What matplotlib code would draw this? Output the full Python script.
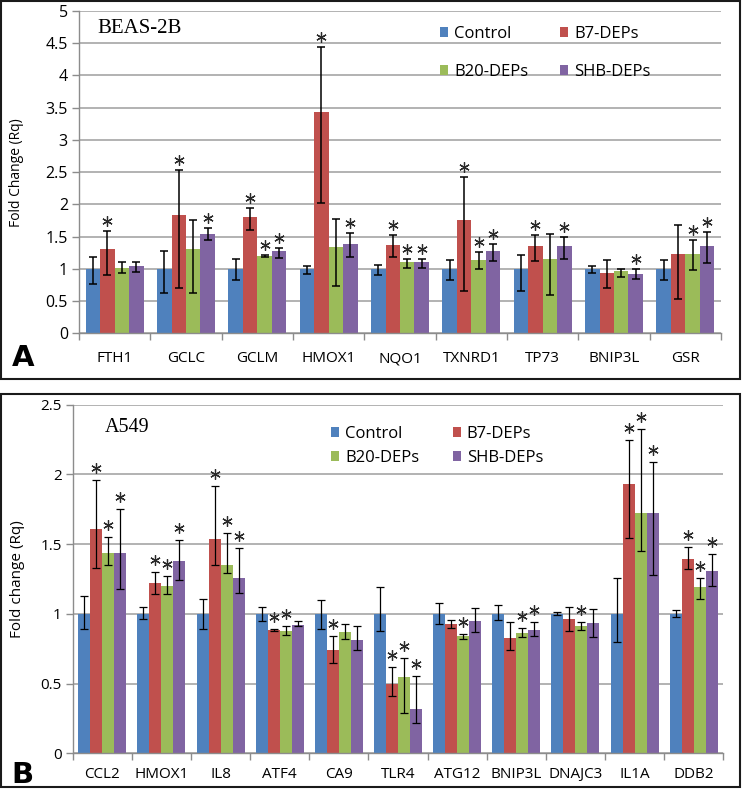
import matplotlib
matplotlib.use("Agg")
import matplotlib.pyplot as plt
import numpy as np
from matplotlib.patches import Rectangle, Patch
from matplotlib.transforms import offset_copy

# ---------------- data ----------------
series_names = ['Control', 'B7-DEPs', 'B20-DEPs', 'SHB-DEPs']
colors = ['#4F81BD', '#C0504D', '#9BBB59', '#8064A2']

genes_a = ['FTH1', 'GCLC', 'GCLM', 'HMOX1', 'NQO1', 'TXNRD1', 'TP73', 'BNIP3L', 'GSR']
control_a = [1, 1, 1, 1, 1, 1, 1, 1, 1]
control_a_lo = [0.77, 0.63, 0.82, 0.92, 0.90, 0.83, 0.66, 0.93, 0.83]
control_a_hi = [1.18, 1.27, 1.15, 1.04, 1.06, 1.13, 1.22, 1.04, 1.13]
b7_a = [1.31, 1.84, 1.80, 3.44, 1.37, 1.76, 1.35, 0.94, 1.23]
b7_a_lo = [0.90, 0.70, 1.60, 2.02, 1.18, 0.66, 1.12, 0.70, 0.53]
b7_a_hi = [1.59, 2.53, 1.95, 4.44, 1.53, 2.43, 1.53, 1.13, 1.68]
b20_a = [1.02, 1.31, 1.20, 1.34, 1.10, 1.14, 1.16, 0.96, 1.23]
b20_a_lo = [0.93, 0.63, 1.18, 0.73, 1.02, 1.00, 0.59, 0.88, 0.98]
b20_a_hi = [1.11, 1.75, 1.21, 1.77, 1.15, 1.26, 1.54, 1.00, 1.45]
shb_a = [1.05, 1.54, 1.27, 1.38, 1.10, 1.27, 1.35, 0.92, 1.35]
shb_a_lo = [0.95, 1.45, 1.17, 1.19, 1.01, 1.12, 1.15, 0.85, 1.09]
shb_a_hi = [1.11, 1.64, 1.33, 1.55, 1.16, 1.38, 1.50, 0.99, 1.57]
sig_control_a = [0, 0, 0, 0, 0, 0, 0, 0, 0]
sig_b7_a = [1, 1, 1, 1, 1, 1, 1, 0, 0]
sig_b20_a = [0, 0, 1, 0, 1, 1, 0, 0, 1]
sig_shb_a = [0, 1, 1, 1, 1, 1, 1, 1, 1]

genes_b = ['CCL2', 'HMOX1', 'IL8', 'ATF4', 'CA9', 'TLR4', 'ATG12', 'BNIP3L', 'DNAJC3', 'IL1A', 'DDB2']
control_b = [1, 1, 1, 1, 1, 1, 1, 1, 1, 1, 1]
control_b_lo = [0.89, 0.96, 0.89, 0.95, 0.89, 0.88, 0.93, 0.955, 0.99, 0.80, 0.976]
control_b_hi = [1.13, 1.05, 1.11, 1.05, 1.10, 1.19, 1.076, 1.067, 1.01, 1.26, 1.03]
b7_b = [1.61, 1.22, 1.54, 0.886, 0.74, 0.50, 0.926, 0.83, 0.96, 1.933, 1.395]
b7_b_lo = [1.33, 1.14, 1.35, 0.876, 0.65, 0.41, 0.90, 0.74, 0.88, 1.545, 1.32]
b7_b_hi = [1.96, 1.30, 1.92, 0.89, 0.84, 0.62, 0.955, 0.94, 1.05, 2.25, 1.48]
b20_b = [1.44, 1.20, 1.35, 0.88, 0.87, 0.55, 0.84, 0.86, 0.914, 1.726, 1.19]
b20_b_lo = [1.35, 1.14, 1.29, 0.85, 0.82, 0.29, 0.82, 0.835, 0.886, 1.45, 1.105]
b20_b_hi = [1.55, 1.27, 1.58, 0.91, 0.93, 0.68, 0.855, 0.90, 0.945, 2.326, 1.255]
shb_b = [1.44, 1.38, 1.26, 0.92, 0.81, 0.32, 0.95, 0.886, 0.933, 1.72, 1.305]
shb_b_lo = [1.18, 1.24, 1.15, 0.91, 0.74, 0.215, 0.87, 0.84, 0.832, 1.28, 1.20]
shb_b_hi = [1.75, 1.53, 1.47, 0.95, 0.91, 0.555, 1.045, 0.94, 1.033, 2.09, 1.426]
sig_control_b = [0] * 11
sig_b7_b = [1, 1, 1, 1, 1, 1, 0, 0, 0, 1, 1]
sig_b20_b = [1, 1, 1, 1, 0, 1, 1, 1, 1, 1, 1]
sig_shb_b = [1, 1, 1, 0, 0, 1, 0, 1, 0, 1, 1]

yticks_a = [0, 0.5, 1, 1.5, 2, 2.5, 3, 3.5, 4, 4.5, 5]
ytick_labels_a = ['0', '0.5', '1', '1.5', '2', '2.5', '3', '3.5', '4', '4.5', '5']
yticks_b = [0, 0.5, 1, 1.5, 2, 2.5]
ytick_labels_b = ['0', '0.5', '1', '1.5', '2', '2.5']

SANS = ['Open Sans', 'DejaVu Sans']
SERIF = ['Liberation Serif', 'DejaVu Serif']
plt.rcParams['font.family'] = SANS

W, H = 742, 790
fig = plt.figure(figsize=(W / 100, H / 100), dpi=100)


def axes_px(left, top, right, bottom):
    return fig.add_axes([left / W, 1 - bottom / H, (right - left) / W, (bottom - top) / H])


def draw_panel(ax, genes, vals, los, his, sigs, yticks, ylabels, ymax, ylabel,
               ylabel_x, ytick_fs, xtick_fs, ylab_fs, err_lw, star_off, xpad):
    n = len(genes)
    x = np.arange(n)
    w = 0.203
    for i in range(4):
        v = np.array(vals[i], dtype=float)
        lo = np.array(los[i], dtype=float)
        hi = np.array(his[i], dtype=float)
        xs = x + (i - 1.5) * w
        ax.bar(xs, v, width=w, color=colors[i], edgecolor='none', zorder=2,
               label=series_names[i])
        ax.errorbar(xs, v, yerr=[v - lo, hi - v], fmt='none', ecolor='black',
                    elinewidth=err_lw, capsize=2.6, capthick=err_lw, zorder=3)
        sig = np.array(sigs[i], dtype=bool)
        if sig.any():
            tr = offset_copy(ax.transData, fig=fig, y=star_off, units='dots')
            ax.plot(xs[sig], hi[sig], linestyle='none', marker=(6, 2, 0),
                    markersize=7.5, markeredgewidth=0.9, color='#2a2a2a',
                    transform=tr, zorder=4, clip_on=False)
    ax.set_xlim(-0.5, n - 0.5)
    ax.set_ylim(0, ymax)
    ax.set_yticks(yticks)
    ax.set_yticklabels(ylabels, fontsize=ytick_fs)
    ax.set_xticks(x)
    ax.set_xticklabels(genes, fontsize=xtick_fs)
    ax.set_xticks(np.arange(n + 1) - 0.5, minor=True)
    ax.tick_params(axis='x', which='major', length=0, pad=xpad)
    ax.tick_params(axis='x', which='minor', length=5, color='#8c8c8c', width=1)
    ax.tick_params(axis='y', length=5, color='#8c8c8c', width=1, pad=3)
    ax.grid(axis='y', color='#a6a6a6', linewidth=1.2, zorder=0)
    ax.set_axisbelow(True)
    for s in ['top', 'right']:
        ax.spines[s].set_visible(False)
    for s in ['left', 'bottom']:
        ax.spines[s].set_color('#8c8c8c')
        ax.spines[s].set_linewidth(1.0)
    ax.set_ylabel(ylabel, fontsize=ylab_fs)
    ax.yaxis.set_label_coords(ylabel_x, 0.5)


# ---------------- panel A ----------------
axA = axes_px(79, 11, 721, 333.3)
draw_panel(axA, genes_a,
           [control_a, b7_a, b20_a, shb_a],
           [control_a_lo, b7_a_lo, b20_a_lo, shb_a_lo],
           [control_a_hi, b7_a_hi, b20_a_hi, shb_a_hi],
           [sig_control_a, sig_b7_a, sig_b20_a, sig_shb_a],
           yticks_a, ytick_labels_a, 5, 'Fold Change (Rq)', -0.086,
           11.5, 11, 10, 1.1, 10, 13)
axA.text(0.028, 0.946, 'BEAS-2B', transform=axA.transAxes, family=SERIF,
         fontsize=15, va='center', ha='left')

# ---------------- panel B ----------------
axB = axes_px(72.7, 404.7, 723.3, 753.3)
draw_panel(axB, genes_b,
           [control_b, b7_b, b20_b, shb_b],
           [control_b_lo, b7_b_lo, b20_b_lo, shb_b_lo],
           [control_b_hi, b7_b_hi, b20_b_hi, shb_b_hi],
           [sig_control_b, sig_b7_b, sig_b20_b, sig_shb_b],
           yticks_b, ytick_labels_b, 2.5, 'Fold change (Rq)', -0.074,
           11, 11, 11, 0.9, 12, 10)
axB.text(0.0497, 0.936, 'A549', transform=axB.transAxes, family=SERIF,
         fontsize=14.5, va='center', ha='left')

# ---------------- legends ----------------
def legend(left_px, top_px, lspacing, cspacing):
    handles = [Patch(facecolor=c, edgecolor='none') for c in colors]
    order = [0, 2, 1, 3]
    leg = fig.legend([handles[k] for k in order], [series_names[k] for k in order],
                     ncol=2, loc='upper left',
                     bbox_to_anchor=(left_px / W, 1 - top_px / H),
                     frameon=False, fontsize=12, handlelength=0.5, handleheight=0.55,
                     handletextpad=0.35, columnspacing=cspacing,
                     labelspacing=lspacing, borderpad=0, borderaxespad=0)
    return leg

legend(440, 26, 1.3, 1.9)
legend(331, 426, 0.45, 2.0)

# ---------------- panel letters & frames ----------------
fig.text(12 / W, 1 - 358 / H, 'A', fontsize=21, fontweight='bold', va='center',
         ha='left', family=['DejaVu Sans'])
fig.text(11 / W, 1 - 775 / H, 'B', fontsize=21, fontweight='bold', va='center',
         ha='left', family=['DejaVu Sans'])

for (l, t, r, b) in [(1, 1, 740, 379), (1, 394, 740, 787)]:
    fig.add_artist(Rectangle((l / W, 1 - b / H), (r - l) / W, (b - t) / H,
                             transform=fig.transFigure, fill=False,
                             edgecolor='#1a1a1a', linewidth=1.5))

fig.savefig('out.png', dpi=100)
